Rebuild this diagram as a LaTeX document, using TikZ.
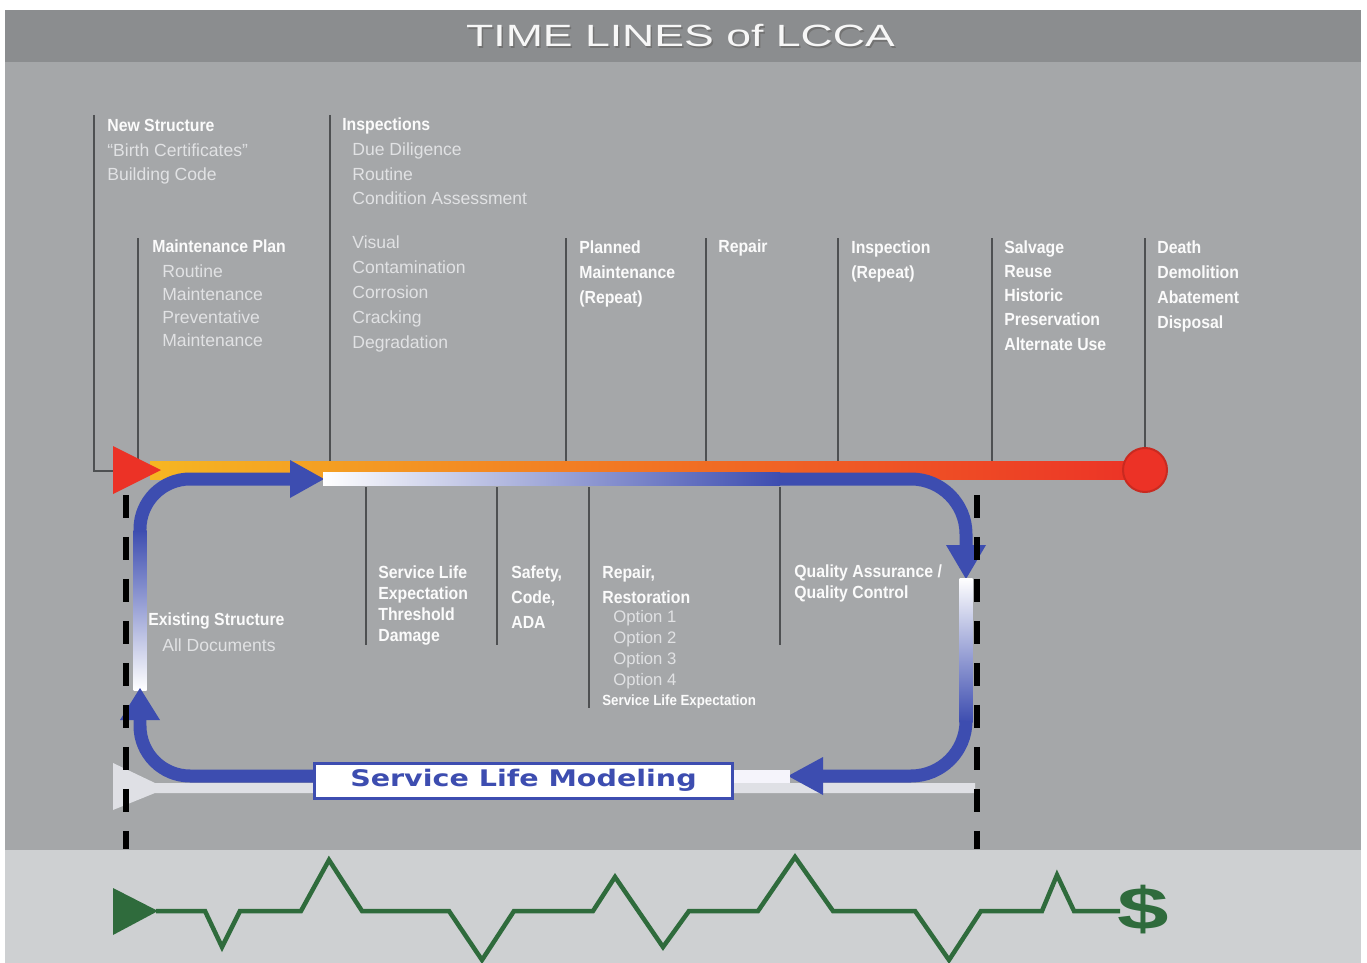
\documentclass[tikz,border=0pt]{standalone}
\usepackage{fontspec}
\setmainfont{Liberation Sans}
\newfontfamily\headfont[FakeStretch=0.9]{Liberation Sans}
\newfontfamily\titlefont[FakeStretch=1.45]{Liberation Sans}
\newfontfamily\modelfont[FakeStretch=1.25]{DejaVu Sans}
\newfontfamily\dollarfont[FakeStretch=1.55]{Liberation Sans}
\usetikzlibrary{calc}
\definecolor{titlebar}{HTML}{8B8D8F}
\definecolor{panel}{HTML}{A5A7A9}
\definecolor{band}{HTML}{CED0D2}
\definecolor{tickgray}{HTML}{4E5052}
\definecolor{loopblue}{HTML}{3D4DB0}
\definecolor{lavender}{HTML}{A8A6DA}
\definecolor{cashgreen}{HTML}{2F6B3C}
\definecolor{barred}{HTML}{EC3226}
\definecolor{barorange}{HTML}{F07E20}
\definecolor{baryellow}{HTML}{F6B622}
\definecolor{softtext}{HTML}{E1E2E4}
\definecolor{palebar}{HTML}{DFE0E5}

\begin{document}
\begin{tikzpicture}[x=0.02cm, y=-0.02cm,
	tick/.style={draw=tickgray, line width=0.03cm},
	head/.style={anchor=base west, inner sep=0pt, align=left, text=white!97!gray, font=\headfont\bfseries\fontsize{10}{14.2}\selectfont},
	note/.style={anchor=base west, inner sep=0pt, align=left, text=softtext, font=\fontsize{10}{14.2}\selectfont},
	tight/.style={font=\headfont\bfseries\fontsize{10}{11.95}\selectfont},
	loopline/.style={draw=loopblue, line width=0.26cm}]
				\useasboundingbox (0,0) rectangle (1367,963);
				\fill[white] (0,0) rectangle (1367,963);
				\fill[panel] (5,10) rectangle (1361,963);
				\fill[titlebar] (5,10) rectangle (1361,62);
				\fill[band] (5,850) rectangle (1361,963);
				
				\node[text=black!55, font=\titlefont\fontsize{17.5}{20}\selectfont] (titleshadow) at (682,37.5) {TIME LINES of LCCA};
				\node[text=white!94!gray, font=\titlefont\fontsize{17.5}{20}\selectfont] (title) at (680.5,36) {TIME LINES of LCCA};
				
				% ticks above and below the time line
				\draw[tick] (94,115) |- (113,471);
				\foreach \x/\ya in {138/238, 330/115, 566/238, 706/238, 838/238, 992/238, 1145/238}
					\draw[tick] (\x,\ya) -- (\x,462);
				\foreach \x/\yb in {366/645, 497/645, 589/708, 780/645}
					\draw[tick] (\x,487) -- (\x,\yb);
				
				% multi-line nodes sit on the baseline of their last line
				\node[head] (newstr) at (107,132) {New Structure};
				\node[note] (newstrsub) at (107,181) {“Birth Certificates”\\Building Code};
				\node[head] (insp) at (342,131) {Inspections};
				\node[note] (inspsub) at (352,205) {Due Diligence\\Routine\\Condition Assessment};
				\node[note] (defects) at (352,348) {Visual\\Contamination\\Corrosion\\Cracking\\Degradation};
				\node[head] (mplan) at (152,253) {Maintenance Plan};
				\node[note, font=\fontsize{10}{13}\selectfont] (mplansub) at (162,346) {Routine\\Maintenance\\Preventative\\Maintenance};
				\node[head] (planned) at (579,303) {Planned\\Maintenance\\(Repeat)};
				\node[head] (repair) at (718,253) {Repair};
				\node[head] (reinsp) at (851,278) {Inspection\\(Repeat)};
				\node[head, font=\headfont\bfseries\fontsize{10}{13.7}\selectfont] (salvage) at (1004,350) {Salvage\\Reuse\\Historic\\Preservation\\Alternate Use};
				\node[head] (death) at (1157,328) {Death\\Demolition\\Abatement\\Disposal};
				
				\node[head] (exist) at (148,625) {Existing Structure};
				\node[note] (existsub) at (162,651) {All Documents};
				\node[head, tight] (slife) at (378,641) {Service Life\\Expectation\\Threshold\\Damage};
				\node[head] (safety) at (511,628) {Safety,\\Code,\\ADA};
				\node[head] (restor) at (602,603) {Repair,\\Restoration};
				\node[note, font=\fontsize{9.5}{11.95}\selectfont] (options) at (613,685) {Option 1\\Option 2\\Option 3\\Option 4};
				\node[head, font=\headfont\bfseries\fontsize{8.4}{10}\selectfont] (slexp) at (602,705) {Service Life Expectation};
				\node[head, tight] (qaqc) at (794,598) {Quality Assurance /\\Quality Control};
				
				% time line
				\shade[left color=baryellow, middle color=barorange, right color=barred] (150,461) rectangle (1145,479);
				\fill[barred] (113,446) -- (161,470) -- (113,494) -- cycle;
				\draw[fill=barred, draw=barred!85!black, line width=0.04cm] (1145,470) circle (22);
				
				% pale second line
				\fill[palebar] (113,763) -- (155,783) -- (975,783) -- (975,793) -- (155,793) -- (113,810) -- cycle;
				
				% service life loop
				\shade[top color=loopblue, middle color=lavender, bottom color=white] (133.5,530) rectangle (146.5,690);
				\draw[loopline, rounded corners=1cm] (140,531) |- (292,479);
				\fill[loopblue] (290,460) -- (290,498) -- (324,479) -- cycle;
				\shade[left color=white, middle color=lavender, right color=loopblue] (323,472.5) rectangle (780,485.5);
				\draw[loopline, rounded corners=1.1cm] (779,479) -| (966,548);
				\fill[loopblue] (946,545) -- (986,545) -- (966,579) -- cycle;
				\shade[top color=white, middle color=lavender, bottom color=loopblue] (959.5,578) rectangle (972.5,722);
				\draw[loopline, rounded corners=1.1cm] (966,721) |- (820,776);
				\fill[loopblue] (823,757) -- (823,795) -- (788,776) -- cycle;
				\fill[white!88!lavender] (733,769.5) rectangle (790,782.5);
				\draw[loopline, rounded corners=1cm] (316,776) -| (140,718);
				\fill[loopblue] (120,720) -- (160,720) -- (140,688) -- cycle;
				\node[draw=loopblue, line width=0.06cm, fill=white, inner sep=0pt, minimum width=8.38cm, minimum height=0.7cm, text=loopblue, font=\modelfont\bfseries\fontsize{13}{15}\selectfont] (slm) at (523.5,780.5) {Service Life Modeling};
				
				\draw[black, line width=0.13cm, dash pattern=on 0.46cm off 0.38cm] (126,495) -- (126,849);
				\draw[black, line width=0.13cm, dash pattern=on 0.46cm off 0.38cm] (977,495) -- (977,849);
				
				% cost line
				\fill[cashgreen] (113,888) -- (158,911) -- (113,935) -- cycle;
				\draw[cashgreen, line width=0.09cm] (156,911) -- (205,911) -- (222,947) -- (240,911) -- (301,911) -- (329,860) -- (362,911) -- (449,911) -- (482,960) -- (514,911) -- (593,911) -- (615,877) -- (663,947) -- (689,911) -- (758,911) -- (795,857) -- (833,911) -- (915,911) -- (949,960) -- (981,911) -- (1042,911) -- (1057,875) -- (1074,911) -- (1120,911);
				\node[text=cashgreen, font=\dollarfont\bfseries\fontsize{34}{34}\selectfont] (cash) at (1143,910) {\$};
			\end{tikzpicture}
\end{document}
